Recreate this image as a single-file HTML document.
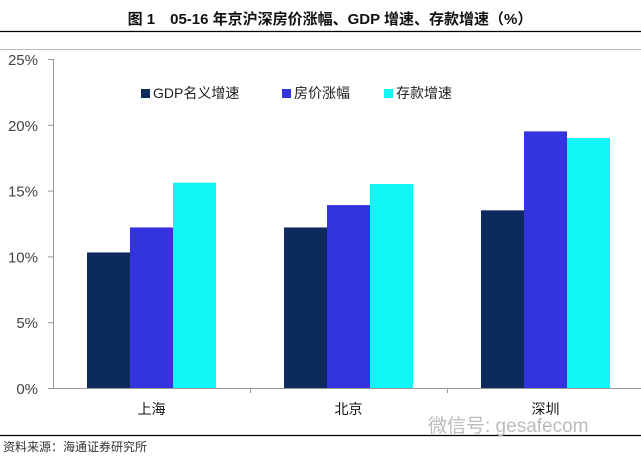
<!DOCTYPE html>
<html><head><meta charset="utf-8"><style>
body{margin:0;background:#fff;width:641px;height:455px;overflow:hidden}
svg text{font-family:"Liberation Sans","Noto Sans CJK SC",sans-serif}
</style></head><body>
<svg width="641" height="455">
<text x="330" y="24" text-anchor="middle" font-size="15" font-weight="bold" fill="#111">图 1　05-16 年京沪深房价涨幅、GDP 增速、存款增速（%）</text>
<line x1="0" y1="31.5" x2="641" y2="31.5" stroke="#000" stroke-width="1.2"/>
<line x1="0" y1="49.5" x2="641" y2="49.5" stroke="#bbb"/>
<g id="yaxis"></g>
<g id="bars"></g>
<g id="xaxis"></g>
<g>
<rect x="141" y="89" width="9" height="9" fill="#0d2a5e"/>
<text x="153" y="98" font-size="14" fill="#222">GDP名义增速</text>
<rect x="282" y="89" width="9" height="9" fill="#3333e0"/>
<text x="294" y="98" font-size="14" fill="#222">房价涨幅</text>
<rect x="384" y="89" width="9" height="9" fill="#11f5f5"/>
<text x="396" y="98" font-size="14" fill="#222">存款增速</text>
</g>
<line x1="0" y1="435.5" x2="641" y2="435.5" stroke="#000" stroke-width="1.2"/>
<text x="3" y="451" font-size="12" fill="#333">资料来源：海通证券研究所</text>
<text x="428" y="432" font-size="19" fill="#bbb">微信号: gesafecom</text>
</svg>
<script>
const categories=["上海","北京","深圳"];
const gdp=[10.3,12.2,13.5];
const house=[12.2,13.9,19.5];
const deposit=[15.6,15.5,19.0];
const yTicks=[0,5,10,15,20,25];
const yTickLabels=["0%","5%","10%","15%","20%","25%"];
const NS="http://www.w3.org/2000/svg";
const x0=53,catW=197,y0=388,yTop=59,yMax=25,barW=43,barOff=34;
const y=v=>y0-(v/yMax)*(y0-yTop);
function mk(tag,attrs,parent){const e=document.createElementNS(NS,tag);for(const k in attrs)e.setAttribute(k,attrs[k]);parent.appendChild(e);return e;}
const ya=document.getElementById('yaxis');
let l=mk('line',{x1:x0+.5,y1:yTop,x2:x0+.5,y2:y0,stroke:'#999'},ya);


yTicks.forEach((v,i)=>{
 const t=mk('line',{x1:x0-5,y1:y(v)+.5,x2:x0,y2:y(v)+.5,stroke:'#999'},ya);
 
 
 const tx=mk('text',{x:38,y:y(v)+6,'text-anchor':'end','font-size':'15',fill:'#444'},ya);
 tx.textContent=yTickLabels[i];
 
 
});
const xa=document.getElementById('xaxis');
l=mk('line',{x1:x0,y1:y0+.5,x2:641,y2:y0+.5,stroke:'#999'},xa);


const bg=document.getElementById('bars');
const series=[[gdp,'#0d2a5e','gdp'],[house,'#3333e0','house'],[deposit,'#11f5f5','deposit']];
categories.forEach((c,i)=>{
 const cx=x0+i*catW;
 const tk=mk('line',{x1:cx+catW+.5,y1:y0,x2:cx+catW+.5,y2:y0+5,stroke:'#999'},xa);
 
 
 const tx=mk('text',{x:cx+catW/2,y:y0+26,'text-anchor':'middle','font-size':'14',fill:'#111'},xa);
 tx.textContent=c;
 
 
 series.forEach((s,j)=>{
  const v=s[0][i];
  const r=mk('rect',{x:cx+barOff+j*barW,y:y(v),width:barW,height:y0-y(v),fill:s[1]},bg);
  
  
 });
});
</script>
</body></html>
